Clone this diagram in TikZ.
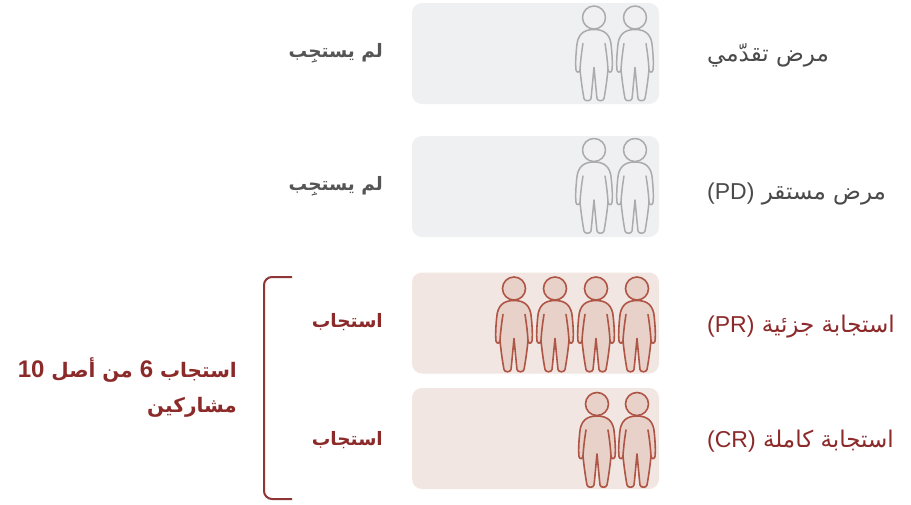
\documentclass[tikz,border=0pt]{standalone}
\usepackage{fontspec}
\setmainfont{Liberation Sans}
\newfontfamily\ar[Script=Arabic]{DejaVu Sans}
\TeXXeTstate=1
\definecolor{panelgray}{HTML}{EFF0F2}
\definecolor{panelred}{HTML}{F2E6E2}
\definecolor{figgray}{HTML}{ABABAB}
\definecolor{figgrayfill}{HTML}{F0F0F2}
\definecolor{figred}{HTML}{AE5546}
\definecolor{figredfill}{HTML}{E8D1C9}
\definecolor{txtgray}{HTML}{4A4A4A}
\definecolor{txtdark}{HTML}{555555}
\definecolor{txtred}{HTML}{8C2A2A}
\definecolor{brk}{HTML}{8E3535}
\newcommand{\latin}[1]{{\rmfamily #1}}
\tikzset{
  person/.pic={
    \path[pic actions] (0,0) circle (11.5);
    \path[pic actions] (0,12)
      .. controls (10.5,12) and (16.5,17) .. (17.3,29)
      .. controls (18.2,38) and (18.6,46) .. (18.1,52)
      .. controls (17.9,55.5) and (14.2,55.5) .. (14,52)
      .. controls (13,63) and (11,76) .. (10,81)
      .. controls (9.5,84) and (3.5,84) .. (3,81)
      .. controls (2,72) and (1,60) .. (0,50)
      .. controls (-1,60) and (-2,72) .. (-3,81)
      .. controls (-3.5,84) and (-9.5,84) .. (-10,81)
      .. controls (-11,76) and (-13,63) .. (-14,52)
      .. controls (-14.2,55.5) and (-17.9,55.5) .. (-18.1,52)
      .. controls (-18.6,46) and (-18.2,38) .. (-17.3,29)
      .. controls (-16.5,17) and (-10.5,12) .. (0,12) -- cycle;
    \path[pic actions, fill=none] (11,26) .. controls (12.5,35) and (13.5,44) .. (14,52);
    \path[pic actions, fill=none] (-11,26) .. controls (-12.5,35) and (-13.5,44) .. (-14,52);
  },
  pgray/.style={draw=figgray, fill=figgrayfill, line width=1.5pt, line join=round, line cap=round},
  pred/.style={draw=figred, fill=figredfill, line width=1.6pt, line join=round, line cap=round},
  panel/.style={rounded corners=10pt, minimum width=247pt, minimum height=101pt, inner sep=0pt, draw=none},
  rlabel/.style={anchor=base west, inner sep=0pt, font=\fontsize{23}{27}\selectfont},
  llabel/.style={anchor=base east, inner sep=0pt, font=\ar\bfseries\fontsize{18.5}{24}\selectfont},
  bracket/.style={draw=brk, line width=2pt, rounded corners=8pt}
}
\begin{document}
\begin{tikzpicture}[x=1pt,y=-1pt]
\useasboundingbox[fill=white] (0,0) rectangle (911,504);
% panels
\node[panel, fill=panelgray] (p1) at (535.5,53.5) {};
\node[panel, fill=panelgray] (p2) at (535.5,186.5) {};
\node[panel, fill=panelred] (p3) at (535.5,323) {};
\node[panel, fill=panelred] (p4) at (535.5,438.5) {};
% figures
\pic[pgray] at (594,17.5) {person};
\pic[pgray] at (635,17.5) {person};
\pic[pgray] at (594,150) {person};
\pic[pgray] at (635,150) {person};
\pic[pred] at (514,288.5) {person};
\pic[pred] at (555,288.5) {person};
\pic[pred] at (596,288.5) {person};
\pic[pred] at (637,288.5) {person};
\pic[pred] at (597,404) {person};
\pic[pred] at (637,404) {person};
% right labels
\node[rlabel, text=txtgray] (r1) at (707,61) {\ar\beginR مرض تقدّمي\endR};
\node[rlabel, text=txtgray] (r2) at (707,199) {\ar\beginR مرض مستقر \beginL\latin{(PD)}\endL\endR};
\node[rlabel, text=txtred] (r3) at (707,332) {\ar\beginR استجابة جزئية \beginL\latin{(PR)}\endL\endR};
\node[rlabel, text=txtred] (r4) at (707,447) {\ar\beginR استجابة كاملة \beginL\latin{(CR)}\endL\endR};
% left labels
\node[llabel, text=txtdark] (l1) at (383,57) {\beginR لم يستجِب\endR};
\node[llabel, text=txtdark] (l2) at (383,190) {\beginR لم يستجِب\endR};
\node[llabel, text=txtred] (l3) at (383,327) {\beginR استجاب\endR};
\node[llabel, text=txtred] (l4) at (383,445) {\beginR استجاب\endR};
% bracket
\coordinate (bt) at (292,277);
\coordinate (bb) at (292,499);
\draw[bracket] (bt) -- ++(-28,0) -- ++(0,222) -- (bb);
% summary
\node[anchor=east, inner sep=0pt, align=right, text=txtred, font=\ar\bfseries\fontsize{20}{35}\selectfont] (sum) at (237,388)
  {\beginR استجاب \beginL\latin{\fontsize{24}{35}\selectfont 6}\endL{} من أصل \beginL\latin{\fontsize{24}{35}\selectfont 10}\endL\endR\\ \beginR مشاركين\endR};
\end{tikzpicture}
\end{document}
